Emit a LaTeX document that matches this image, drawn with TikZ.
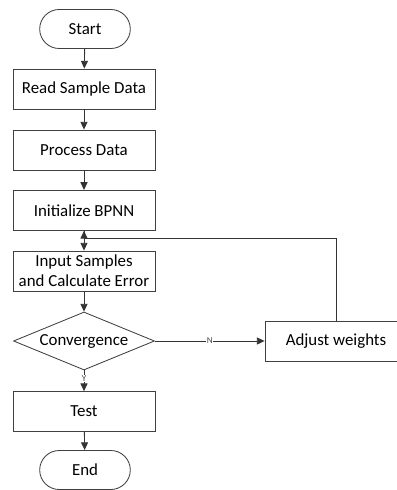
\documentclass[tikz,border=0pt]{standalone}
\usepackage{fontspec}
\setmainfont{Carlito}
\usetikzlibrary{shapes.geometric,shapes.misc,arrows.meta}
\tikzset{
	flow/.style={draw=black!75,line width=0.6pt,fill=white,font=\fontsize{12}{14}\selectfont,align=center},
	procbox/.style={flow,rectangle,minimum width=3.55cm,minimum height=1cm,inner sep=1pt},
	termbox/.style={flow,rounded rectangle,minimum width=2.5cm,minimum height=0.975cm},
	decbox/.style={flow,diamond,aspect=2.45,minimum width=3.525cm,minimum height=1.45cm,inner sep=0pt},
	arr/.style={draw=black!80,line width=0.6pt,-{Triangle[length=5.5pt,width=5pt]}},
	tag/.style={font=\fontsize{6.5}{7}\selectfont,text=black!70,fill=white,inner sep=0.5pt}
}
\begin{document}
\begin{tikzpicture}
	\useasboundingbox (0,0) rectangle (9.9,-12.25);
	% main column
	\node[termbox] (start) at (2.125,-0.725) {Start};
	\node[procbox] (read) at (2.1,-2.225) {Read Sample Data};
	\node[procbox] (proc) at (2.1,-3.75) {Process Data};
	\node[procbox] (init) at (2.1,-5.26) {Initialize BPNN};
	\node[procbox] (input) at (2.1,-6.775) {Input Samples\\and Calculate Error};
	\node[decbox] (conv) at (2.1,-8.525) {Convergence};
	\node[procbox] (test) at (2.1,-10.29) {Test};
	\node[termbox] (end) at (2.125,-11.75) {End};
	% side branch
	\node[procbox] (adjust) at (8.4,-8.525) {Adjust weights};
	\coordinate (back) at (2.1,-5.95);

	\draw[arr] (start) -- (read);
	\draw[arr] (read) -- (proc);
	\draw[arr] (proc) -- (init);
	\draw[arr] (init) -- (input);
	\draw[arr] (input) -- (conv);
	\draw[arr] (conv) -- node[tag,pos=0.4]{Y} (test);
	\draw[arr] (test) -- (end);
	\draw[arr] (conv) -- node[tag,pos=0.5]{N} (adjust);
	\draw[arr] (adjust.north) |- (back) -- (init.south);
\end{tikzpicture}
\end{document}
